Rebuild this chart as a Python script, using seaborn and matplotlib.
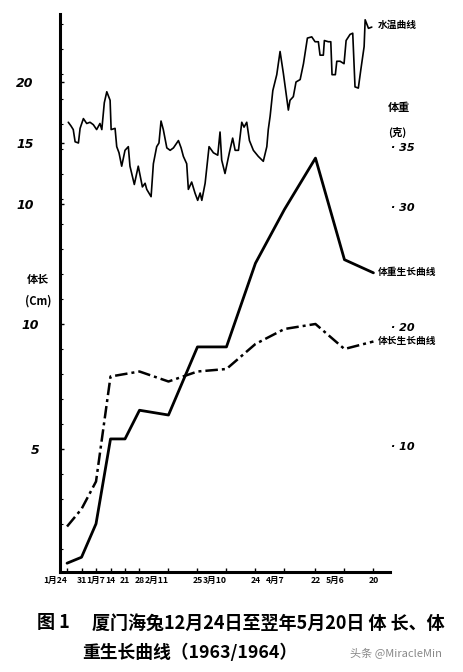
import numpy as np
import pandas as pd
import matplotlib
matplotlib.use("Agg")
import matplotlib.pyplot as plt
import seaborn as sns

# ---------------- data ----------------
# days counted from 12月24日 (1963)
tick_days = [0, 7, 14, 21, 28, 35, 49, 63, 77, 91, 105, 120, 134, 148]
tick_labels = ["1月24", "31", "1月7", "14", "21", "28", "2月11", "25", "3月10",
               "24", "4月7", "22", "5月6", "20"]

length_days = [0, 7, 14, 21, 35, 49, 63, 77, 91, 105, 120, 134, 148]
length_cm = [1.9, 2.6, 3.7, 7.9, 8.1, 7.7, 8.1, 8.2, 9.2, 9.8, 10.0, 9.0, 9.3]

weight_days = [0, 7, 14, 21, 28, 35, 49, 63, 77, 91, 105, 120, 134, 148]
weight_g = [0.2, 0.7, 3.5, 10.6, 10.6, 13.0, 12.6, 18.3, 18.3, 25.3, 29.8, 34.1, 25.6, 24.5]

temp_days = [0.6, 1.9, 3.0, 3.9, 5.5, 6.3, 7.9, 9.5, 11.1, 12.7,
             14.3, 15.9, 16.8, 18.0, 19.2, 20.8, 21.3, 23.2, 24.0, 25.1,
             26.4, 28.0, 29.6, 30.4, 32.5, 34.4, 36.4, 37.7, 38.5, 40.6,
             41.7, 43.3, 44.4, 45.4, 46.5, 48.2, 49.8, 51.4, 53.8, 55.1,
             56.2, 57.8, 58.6, 60.2, 61.8, 63.1, 64.3, 65.1, 66.7, 68.6,
             70.7, 72.8, 73.9, 74.7, 76.3, 78.4, 80.0, 81.2, 82.8, 84.4,
             85.5, 86.8, 88.1, 90.0, 92.4, 94.8, 96.5, 97.2, 98.1, 99.4,
             101.3, 102.9, 104.5, 105.7, 106.9, 107.7, 109.3, 110.6, 112.6, 114.2,
             116.1, 118.2, 119.8, 121.4, 122.2, 123.8, 124.3, 126.2, 127.4, 128.0,
             129.6, 130.3, 131.9, 133.8, 134.8, 136.7, 138.0, 139.1, 140.7, 141.9,
             143.5, 144.0, 145.6, 147.2]
temp_c = [16.7, 16.4, 16.1, 15.1, 15.0, 16.2, 17.0, 16.6, 16.7, 16.5,
          16.1, 16.6, 16.1, 18.3, 19.2, 18.5, 16.1, 16.2, 14.7, 14.2,
          13.1, 14.4, 14.7, 13.1, 11.6, 13.1, 11.4, 11.7, 11.2, 10.6,
          13.3, 14.7, 15.0, 16.8, 16.1, 14.6, 14.4, 14.6, 15.2, 14.6,
          13.9, 13.3, 11.2, 11.8, 10.9, 10.3, 10.9, 10.3, 11.7, 14.7,
          14.2, 14.0, 15.9, 13.6, 12.5, 14.2, 15.4, 14.4, 14.4, 16.7,
          16.3, 16.7, 15.2, 14.4, 13.9, 13.5, 14.7, 16.1, 17.2, 19.3,
          20.6, 22.5, 20.7, 19.2, 17.7, 18.5, 18.8, 20.0, 20.2, 21.5,
          23.6, 23.7, 23.3, 23.3, 22.2, 22.2, 23.4, 23.3, 23.3, 20.6,
          20.6, 21.7, 21.7, 21.5, 23.4, 23.9, 24.0, 19.6, 19.5, 21.0,
          22.9, 25.1, 24.4, 24.5]

temp_ticks = [10, 15, 20]
length_ticks = [5, 10]
weight_ticks = [10, 20, 30, 35]

# ---------------- style ----------------
sns.set_theme(style="white")
plt.rcParams['font.family'] = ['Noto Sans CJK SC', 'DejaVu Sans']
plt.rcParams['axes.unicode_minus'] = False

W, H = 464, 672
fig = plt.figure(figsize=(W / 100, H / 100), dpi=100)
fig.patch.set_facecolor("white")

L, R, T, B = 60, 390, 14, 572
ax = fig.add_axes([L / W, 1 - B / H, (R - L) / W, (B - T) / H])
ax_w = ax.twinx()
ax_t = ax.twinx()

len_df = pd.DataFrame({"day": length_days, "cm": length_cm})
w_df = pd.DataFrame({"day": weight_days, "g": weight_g})
t_df = pd.DataFrame({"day": temp_days, "c": temp_c})

sns.lineplot(data=len_df, x="day", y="cm", ax=ax, color="black", lw=1.8,
             linestyle=(0, (5, 1.6, 1.2, 1.6)))
sns.lineplot(data=w_df, x="day", y="g", ax=ax_w, color="black", lw=2.0)
sns.lineplot(data=t_df, x="day", y="c", ax=ax_t, color="black", lw=1.2)

for a in (ax, ax_w, ax_t):
    a.set_xlabel("")
    a.set_ylabel("")
    a.patch.set_visible(False)
    for s in a.spines.values():
        s.set_visible(False)

ax.set_xlim(-3.4, 156)
ax.set_ylim((574 - B) / 25.0, (574 - T) / 25.0)
ax_w.set_ylim((565.6 - B) / 11.95, (565.6 - T) / 11.95)
ax_t.set_ylim((326 - B) / 12.2, (326 - T) / 12.2)

ax.spines["left"].set_visible(True)
ax.spines["bottom"].set_visible(True)
ax.spines["left"].set_linewidth(2.2)
ax.spines["bottom"].set_linewidth(2.2)
ax.spines["left"].set_color("black")
ax.spines["bottom"].set_color("black")

tick_font = dict(fontsize=9, fontstyle="italic", fontweight="bold", family=["DejaVu Sans"])

# length ticks (left)
ax.set_yticks(length_ticks)
ax.set_yticklabels([str(v) for v in length_ticks], **tick_font)
ax.set_yticks(np.arange(1, 23), minor=True)
ax.tick_params(axis="y", which="major", direction="in", length=3, width=1,
               pad=15, colors="black", left=True)
ax.tick_params(axis="y", which="minor", direction="in", length=2.5, width=0.8,
               left=True, colors="black")

# x ticks
ax.set_xticks(tick_days)
ax.set_xticklabels(tick_labels, fontsize=6.2, fontweight="bold")
for lab in ax.get_xticklabels():
    txt = lab.get_text()
    if "月" in txt and txt != "1月7":
        lab.set_ha("right")
ax.tick_params(axis="x", which="major", direction="in", length=3, width=1,
               pad=3, colors="black", bottom=True)

# temperature ticks (left, upper)
ax_t.yaxis.tick_left()
ax_t.set_yticks(temp_ticks)
ax_t.set_yticklabels([str(v) for v in temp_ticks], **tick_font)
ax_t.tick_params(axis="y", direction="in", length=3, width=1, pad=19, colors="black", left=True, right=False)

# weight ticks (right)
ax_w.yaxis.tick_right()
ax_w.set_yticks(weight_ticks)
ax_w.set_yticklabels(["· " + str(v) for v in weight_ticks], fontsize=8,
                     fontstyle="italic", fontweight="bold", family=["DejaVu Sans"])
ax_w.tick_params(axis="y", length=0, pad=1, colors="black", right=True, left=False)

def ptext(x, y, s, **kw):
    fig.text(x / W, 1 - y / H, s, **kw)

bold = dict(fontweight="bold", color="black", va="center")
ptext(378, 25, "水温曲线", fontsize=7, ha="left", **bold)
ptext(378, 272, "体重生长曲线", fontsize=7, ha="left", **bold)
ptext(378, 341, "体长生长曲线", fontsize=7, ha="left", **bold)
ptext(388, 108, "体重", fontsize=8, ha="left", **bold)
ptext(388, 132, "(克)", fontsize=7.5, ha="left", **bold)
ptext(27, 279, "体长", fontsize=8, ha="left", **bold)
ptext(25, 301, "(Cm)", fontsize=8, ha="left", **bold)

ptext(37, 623, "图 1", fontsize=13, ha="left", **bold)
ptext(92, 623, "厦门海兔12月24日至翌年5月20日 体 长、体", fontsize=13, ha="left", **bold)
ptext(82, 653, "重生长曲线（1963/1964）", fontsize=12.8, ha="left", **bold)
ptext(350, 653, "头条 @MiracleMin", fontsize=8, ha="left", color="#888888", va="center")

fig.savefig("out.png", dpi=100, facecolor="white")
